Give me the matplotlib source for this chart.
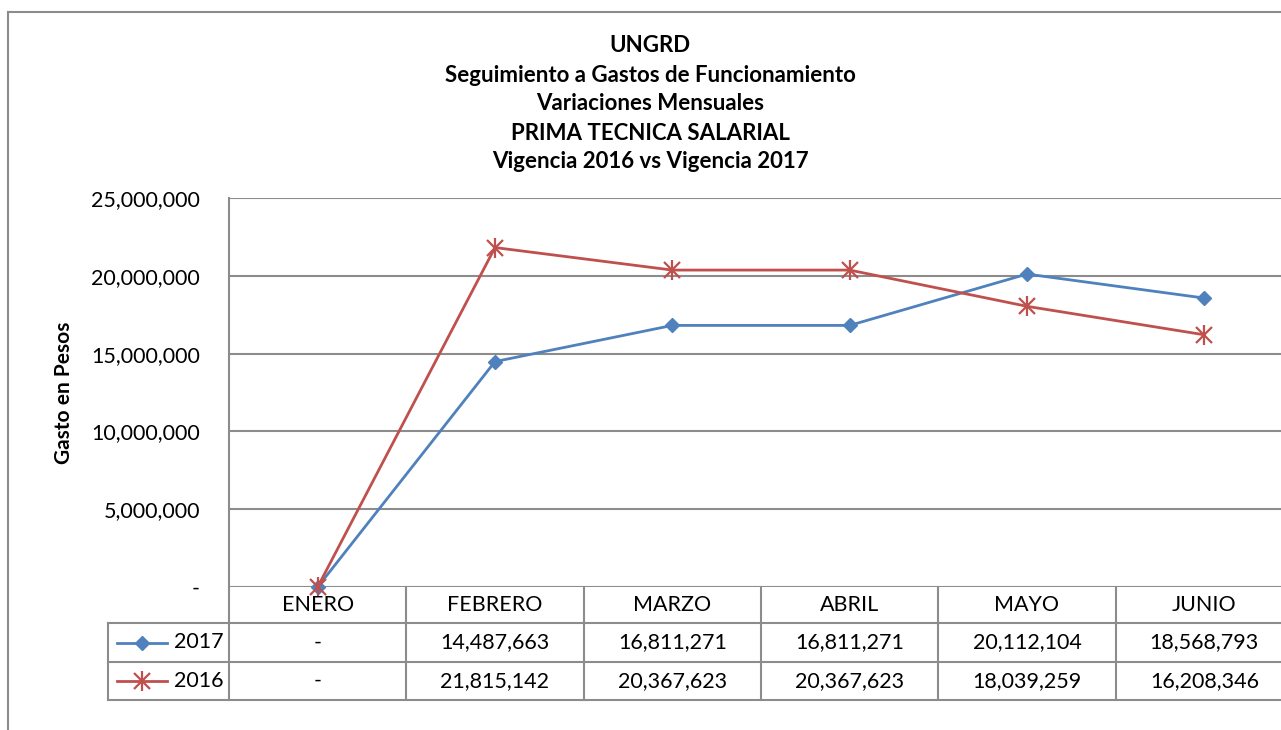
import matplotlib
matplotlib.use("Agg")
import matplotlib.pyplot as plt
from matplotlib.lines import Line2D

plt.rcParams["font.family"] = ["Lato", "DejaVu Sans"]

MONTHS = ["ENERO", "FEBRERO", "MARZO", "ABRIL", "MAYO", "JUNIO"]
GASTO_2017 = [0, 14487663, 16811271, 16811271, 20112104, 18568793]
GASTO_2016 = [0, 21815142, 20367623, 20367623, 18039259, 16208346]
Y_TICKS = [0, 5000000, 10000000, 15000000, 20000000, 25000000]
TITLE_LINES = [
    "UNGRD",
    "Seguimiento a Gastos de Funcionamiento",
    "Variaciones Mensuales",
    "PRIMA TECNICA SALARIAL",
    "Vigencia 2016 vs Vigencia 2017",
]

BLUE = "#4F81BD"
RED = "#C0504D"
GRID = "#8C8C8C"
FS = 15.5

W, H = 1281, 730


def fx(px):
    return px / W


def fy(py):
    return 1 - py / H


def fmt(v):
    return "-" if v == 0 else f"{v:,.0f}"


fig = plt.figure(figsize=(12.81, 7.30), dpi=100)

# outer chart border (right and bottom run off the image)
fig.add_artist(Line2D([fx(8), fx(8)], [fy(12), fy(740)], color=GRID, lw=1.5))
fig.add_artist(Line2D([fx(8), fx(1290)], [fy(12), fy(12)], color=GRID, lw=1.5))

cat_w = 177.33
left, right, top, bottom = 229, 229 + 6 * cat_w, 198, 587
ax = fig.add_axes([fx(left), fy(bottom), fx(right - left), (bottom - top) / H])
ax.set_xlim(-0.5, 5.5)
ax.set_ylim(0, 25000000)
for s in ax.spines.values():
    s.set_visible(False)
ax.spines["left"].set_visible(True)
ax.spines["left"].set_color(GRID)
ax.spines["left"].set_linewidth(1.5)
ax.set_yticks(Y_TICKS)
ax.set_yticklabels([fmt(v) for v in Y_TICKS], fontsize=FS)
ax.tick_params(axis="y", length=0, pad=21)
ax.set_xticks([])
for t in Y_TICKS:
    ax.axhline(t, color=GRID, lw=1.5, zorder=1)
ax.set_ylabel("Gasto en Pesos", fontsize=15, fontweight="bold", labelpad=12)

x = list(range(len(MONTHS)))
ax.plot(x, GASTO_2017, color=BLUE, lw=2, marker="D", ms=7.5, zorder=3, clip_on=False)
ax.plot(x, GASTO_2016, color=RED, lw=2, marker="x", ms=11, mew=1.6, zorder=4, clip_on=False)
ax.plot(x, GASTO_2016, ls="none", color=RED, marker="|", ms=15, mew=1.6, zorder=4, clip_on=False)

# title
for i, line in enumerate(TITLE_LINES):
    fig.text(fx(650), fy(46 + i * 29), line, ha="center", va="center",
             fontsize=16, fontweight="bold")

# data table below the plot
leg_left = 108
tab = fig.add_axes([fx(leg_left), fy(700), fx(right - leg_left), (700 - bottom) / H])
tab.set_xlim(-0.5 - (left - leg_left) / cat_w, 5.5)
tab.set_ylim(113, 0)
tab.axis("off")
x0 = -0.5 - (left - leg_left) / cat_w
rows = [36, 75, 113]
for r in rows:
    tab.plot([x0, 5.5], [r, r], color=GRID, lw=1.5, clip_on=False)
tab.plot([x0, x0], [36, 113], color=GRID, lw=1.5, clip_on=False)
for i in range(7):
    tab.plot([i - 0.5, i - 0.5], [0, 113], color=GRID, lw=1.5, clip_on=False)
for i, m in enumerate(MONTHS):
    tab.text(i, 18, m, ha="center", va="center", fontsize=FS)
    tab.text(i, 55.5, fmt(GASTO_2017[i]), ha="center", va="center", fontsize=FS)
    tab.text(i, 94, fmt(GASTO_2016[i]), ha="center", va="center", fontsize=FS)

# legend keys inside the table
k0 = x0 + 9 / cat_w
k1 = x0 + 59 / cat_w
km = (k0 + k1) / 2
tab.plot([k0, k1], [55.5, 55.5], color=BLUE, lw=2, clip_on=False)
tab.plot([km], [55.5], color=BLUE, marker="D", ms=7.5, clip_on=False)
tab.plot([k0, k1], [94, 94], color=RED, lw=2, clip_on=False)
tab.plot([km], [94], color=RED, marker="x", ms=11, mew=1.6, clip_on=False)
tab.plot([km], [94], color=RED, marker="|", ms=15, mew=1.6, clip_on=False)
tab.text(x0 + 66 / cat_w, 55.5, "2017", ha="left", va="center", fontsize=FS)
tab.text(x0 + 66 / cat_w, 94, "2016", ha="left", va="center", fontsize=FS)

fig.savefig("out.png", dpi=100)
